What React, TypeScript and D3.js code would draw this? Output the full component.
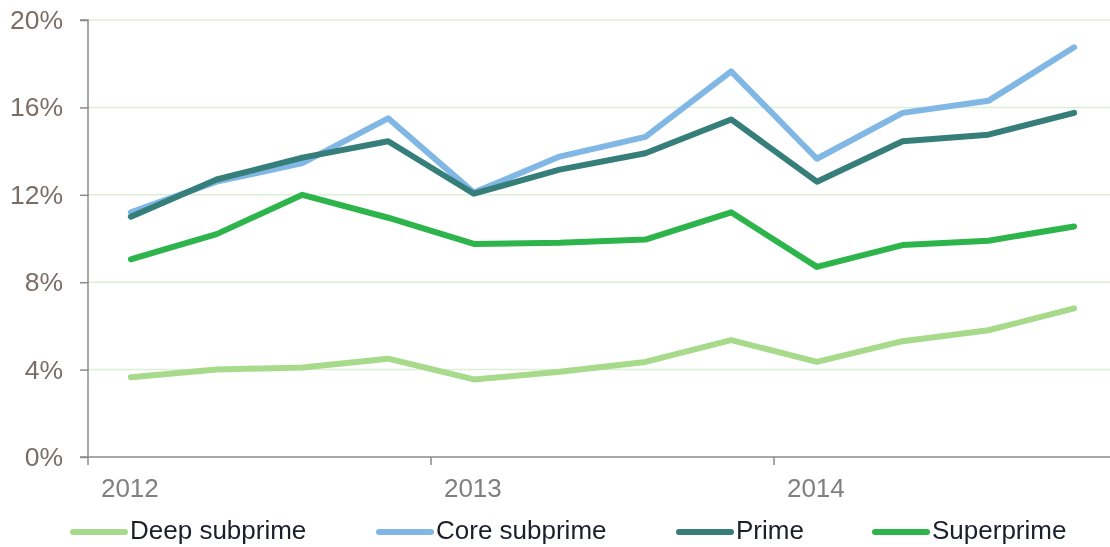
import { useEffect, useRef } from "react";
import * as d3 from "d3";

const quarters = [
  "2012Q1", "2012Q2", "2012Q3", "2012Q4",
  "2013Q1", "2013Q2", "2013Q3", "2013Q4",
  "2014Q1", "2014Q2", "2014Q3", "2014Q4",
];
const years = ["2012", "2013", "2014"];
const deepSubprime = [3.65, 4.0, 4.1, 4.5, 3.55, 3.9, 4.35, 5.35, 4.35, 5.3, 5.8, 6.8];
const coreSubprime = [11.2, 12.6, 13.45, 15.5, 12.1, 13.75, 14.65, 17.65, 13.65, 15.75, 16.3, 18.75];
const prime = [11.0, 12.7, 13.7, 14.45, 12.05, 13.15, 13.9, 15.45, 12.6, 14.45, 14.75, 15.75];
const superprime = [9.05, 10.2, 12.0, 10.95, 9.75, 9.8, 9.95, 11.2, 8.7, 9.7, 9.9, 10.55];
const yTicks = [0, 4, 8, 12, 16, 20];

const seriesNames = ["Deep subprime", "Core subprime", "Prime", "Superprime"];
const seriesColors = ["#a8da8c", "#80b7e4", "#357e7a", "#2db44a"];

const Chart = () => {
  const ref = useRef<SVGSVGElement>(null);

  useEffect(() => {
    const svg = d3.select(ref.current);
    svg.selectAll("*").remove();

    const W = 1110;
    const left = 88;
    const top = 20;
    const bottom = 457;

    const x = d3.scaleBand().domain(quarters).range([left, left + 12 * 85.75]);
    const y = d3.scaleLinear().domain([0, 20]).range([bottom, top]);
    const font = "Liberation Sans, Arial, sans-serif";

    // gridlines
    svg.append("g")
      .selectAll("line")
      .data(yTicks.filter((d) => d > 0))
      .join("line")
      .attr("x1", left)
      .attr("x2", W)
      .attr("y1", (d) => y(d))
      .attr("y2", (d) => y(d))
      .attr("stroke", "#ddeed6")
      .attr("stroke-width", 1.5);

    // y axis
    const yAxis = svg.append("g")
      .attr("transform", `translate(${left},0)`)
      .call(d3.axisLeft(y).tickValues(yTicks).tickSize(8).tickFormat((d) => `${d}%`));
    yAxis.select(".domain").attr("stroke", "#8a8a8a").attr("stroke-width", 1.5).attr("d", `M-8,${top}H0V${bottom}`);
    yAxis.selectAll(".tick line").attr("stroke", "#8a8a8a").attr("stroke-width", 1.5);
    yAxis.selectAll(".tick text")
      .attr("x", -25)
      .attr("font-size", 26.5)
      .attr("font-family", font)
      .attr("fill", "#7a6e66");

    // x axis
    const xg = svg.append("g");
    xg.append("line")
      .attr("x1", left - 8)
      .attr("x2", W)
      .attr("y1", bottom)
      .attr("y2", bottom)
      .attr("stroke", "#8a8a8a")
      .attr("stroke-width", 1.5);
    xg.selectAll(".xt")
      .data(years)
      .join("line")
      .attr("class", "xt")
      .attr("x1", (d) => x(`${d}Q1`)!)
      .attr("x2", (d) => x(`${d}Q1`)!)
      .attr("y1", bottom)
      .attr("y2", bottom + 8)
      .attr("stroke", "#8a8a8a")
      .attr("stroke-width", 1.5);
    xg.selectAll("text")
      .data(years)
      .join("text")
      .attr("x", (d) => x(`${d}Q1`)! + x.bandwidth() / 2 - 1)
      .attr("y", 497)
      .attr("text-anchor", "middle")
      .attr("font-size", 26)
      .attr("font-family", font)
      .attr("fill", "#808080")
      .text((d) => d);

    // lines
    const allSeries = [deepSubprime, coreSubprime, prime, superprime];
    const line = d3
      .line<number>()
      .x((_, i) => x(quarters[i])! + x.bandwidth() / 2)
      .y((d) => y(d));
    svg.append("g")
      .selectAll("path")
      .data(allSeries)
      .join("path")
      .attr("d", (d) => line(d))
      .attr("fill", "none")
      .attr("stroke", (_, i) => seriesColors[i])
      .attr("stroke-width", 6)
      .attr("stroke-linejoin", "round")
      .attr("stroke-linecap", "round");

    // legend
    const legendX = [73, 379, 679, 875];
    const lg = svg.append("g")
      .selectAll("g")
      .data(seriesNames)
      .join("g")
      .attr("transform", (_, i) => `translate(${legendX[i]},532)`);
    lg.append("line")
      .attr("x1", 0)
      .attr("x2", 52)
      .attr("stroke", (_, i) => seriesColors[i])
      .attr("stroke-width", 6)
      .attr("stroke-linecap", "round");
    lg.append("text")
      .attr("x", 57)
      .attr("y", 7)
      .attr("font-size", 26)
      .attr("font-family", font)
      .attr("fill", "#1c1e2a")
      .text((d) => d);
  }, []);

  return <svg ref={ref} width={1110} height={547} style={{ display: "block" }} />;
};

export default function App() {
  return (
    <div style={{ position: "fixed", top: 0, left: 0, width: 1110, height: 547 }}>
      <Chart />
    </div>
  );
}
